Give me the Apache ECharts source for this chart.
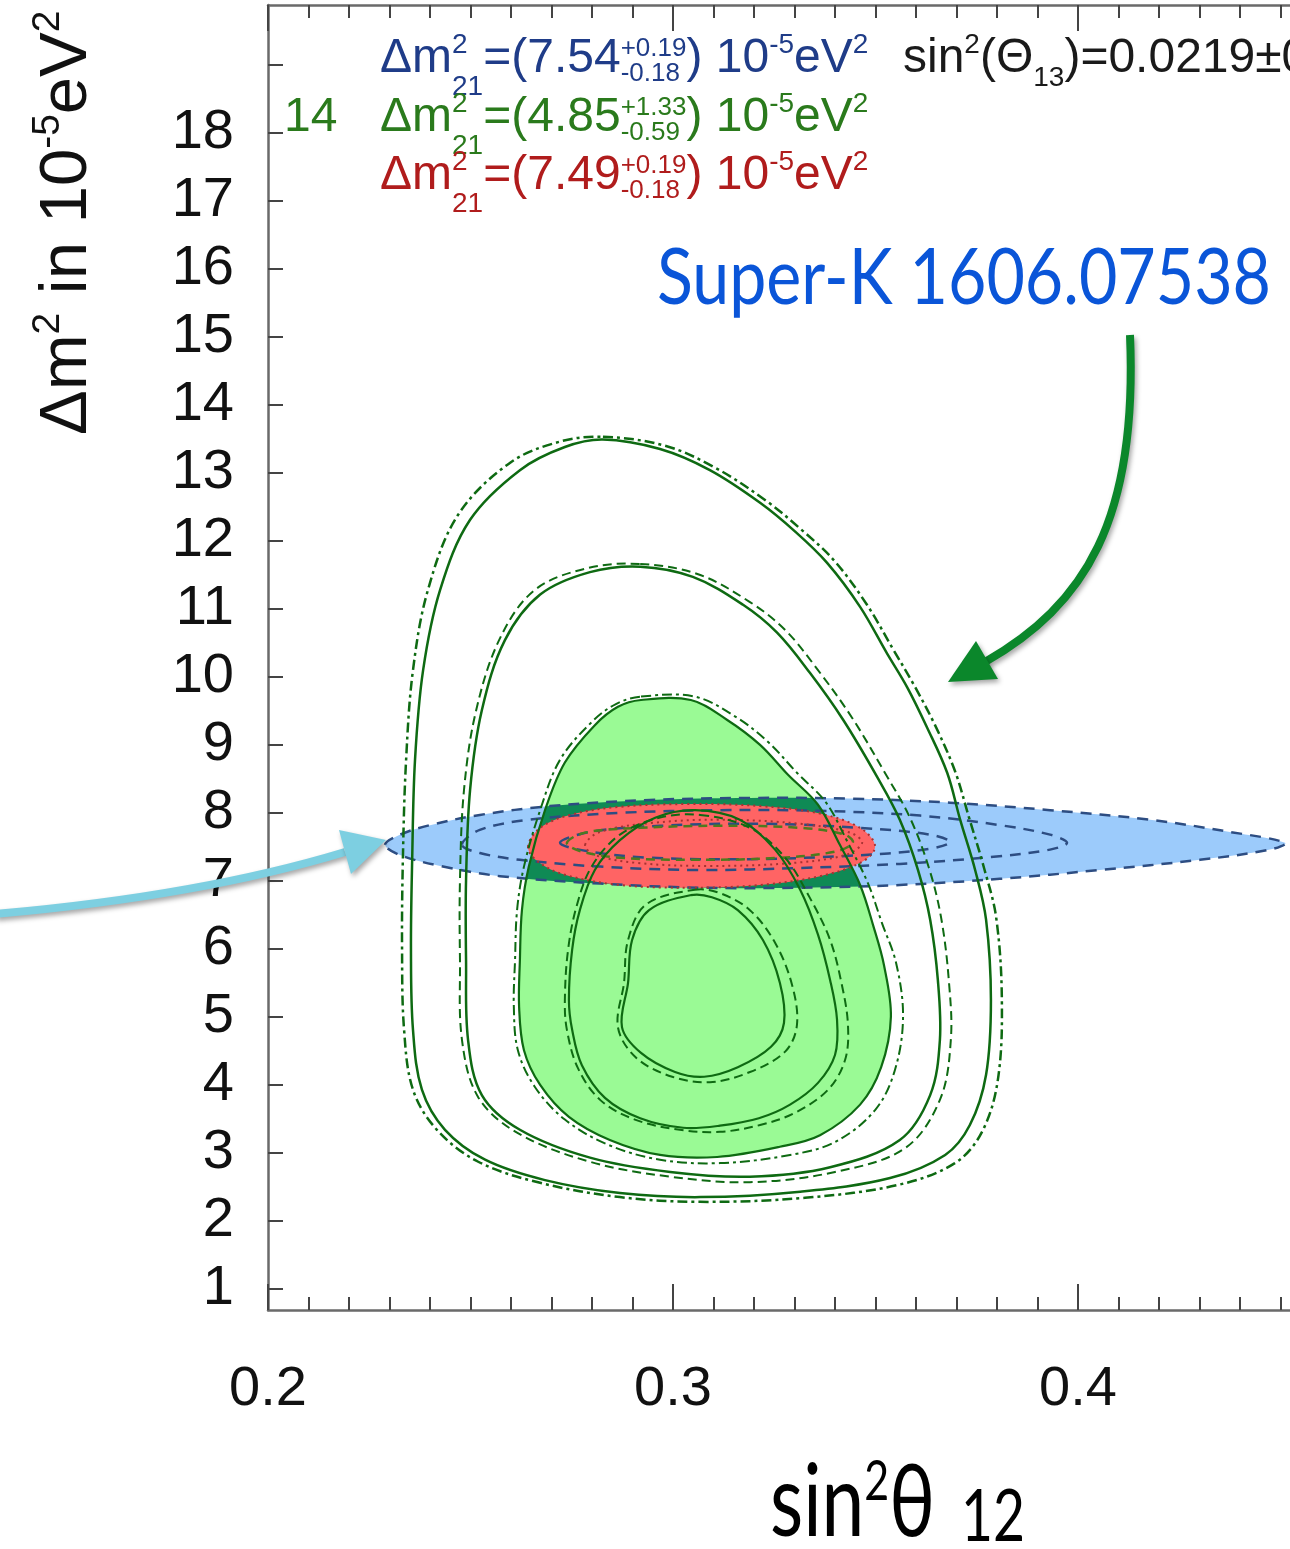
<!DOCTYPE html>
<html><head><meta charset="utf-8">
<script src="https://cdn.jsdelivr.net/npm/echarts@6/dist/echarts.min.js"></script>
<style>html,body{margin:0;padding:0;background:#fff}#c{width:1290px;height:1549px}</style>
</head><body><div id="c"></div>
<script>
// ---------- axis definitions ----------
const xTickLabels = [0.2, 0.3, 0.4];
const yTickValues = [1,2,3,4,5,6,7,8,9,10,11,12,13,14,15,16,17,18,19];
const yLabelValues = [1,2,3,4,5,6,7,8,9,10,11,12,13,14,15,16,17,18];

// ---------- contours (sin^2 theta12, dm2 in 1e-5 eV^2) ----------
const green3sigma = [[0.2827,13.49],[0.2968,13.35],[0.3091,13.04],[0.3215,12.56],[0.3301,12.14],[0.3380,11.68],[0.3462,11.03],[0.3528,10.35],[0.3578,9.85],[0.3627,9.26],[0.3677,8.59],[0.3709,7.90],[0.3746,7.16],[0.3773,6.43],[0.3785,5.25],[0.3773,4.15],[0.3733,3.41],[0.3672,2.97],[0.3536,2.63],[0.3314,2.43],[0.3067,2.35],[0.2869,2.41],[0.2684,2.60],[0.2536,2.90],[0.2437,3.34],[0.2380,3.93],[0.2358,4.81],[0.2353,5.99],[0.2356,7.31],[0.2363,8.78],[0.2383,10.10],[0.2425,11.28],[0.2499,12.31],[0.2622,13.04],[0.2733,13.38]];
const green3sigmaAlt = [[0.2827,13.53],[0.2980,13.40],[0.3106,13.07],[0.3230,12.59],[0.3316,12.17],[0.3398,11.71],[0.3479,11.06],[0.3546,10.38],[0.3595,9.88],[0.3647,9.29],[0.3696,8.62],[0.3731,7.93],[0.3768,7.19],[0.3798,6.46],[0.3812,5.25],[0.3802,4.07],[0.3763,3.31],[0.3696,2.85],[0.3556,2.53],[0.3326,2.34],[0.3067,2.28],[0.2869,2.35],[0.2672,2.56],[0.2519,2.87],[0.2417,3.34],[0.2358,3.93],[0.2336,4.81],[0.2331,5.99],[0.2333,7.31],[0.2341,8.78],[0.2358,10.10],[0.2395,11.28],[0.2469,12.38],[0.2598,13.15],[0.2721,13.46]];
const green2sigma = [[0.2919,11.62],[0.3049,11.47],[0.3173,11.06],[0.3257,10.65],[0.3338,10.06],[0.3420,9.37],[0.3504,8.53],[0.3560,7.90],[0.3605,7.16],[0.3635,6.43],[0.3654,5.54],[0.3659,4.66],[0.3635,3.85],[0.3560,3.19],[0.3388,2.79],[0.3190,2.65],[0.2993,2.72],[0.2795,2.93],[0.2622,3.34],[0.2528,3.85],[0.2494,4.66],[0.2489,5.84],[0.2489,7.01],[0.2499,8.34],[0.2528,9.51],[0.2585,10.54],[0.2672,11.21],[0.2795,11.54]];
const green2sigmaAlt = [[0.2919,11.66],[0.3062,11.51],[0.3190,11.10],[0.3277,10.69],[0.3358,10.10],[0.3442,9.40],[0.3526,8.56],[0.3585,7.93],[0.3632,7.19],[0.3662,6.46],[0.3681,5.54],[0.3686,4.66],[0.3659,3.78],[0.3573,3.07],[0.3400,2.72],[0.3190,2.57],[0.2993,2.65],[0.2795,2.87],[0.2617,3.29],[0.2519,3.82],[0.2479,4.66],[0.2474,5.84],[0.2474,7.01],[0.2484,8.34],[0.2514,9.51],[0.2573,10.57],[0.2659,11.28],[0.2790,11.60]];
const greenFill = [[0.2921,9.66],[0.3044,9.66],[0.3133,9.37],[0.3215,9.00],[0.3284,8.56],[0.3358,8.12],[0.3412,7.53],[0.3462,6.94],[0.3494,6.35],[0.3521,5.76],[0.3538,5.00],[0.3514,4.26],[0.3462,3.71],[0.3363,3.26],[0.3264,3.09],[0.3109,2.94],[0.2968,2.97],[0.2844,3.19],[0.2743,3.53],[0.2672,4.00],[0.2632,4.51],[0.2620,5.15],[0.2622,5.84],[0.2627,6.57],[0.2644,7.21],[0.2684,8.04],[0.2733,8.74],[0.2807,9.29],[0.2864,9.56]];
const greenFillAlt = [[0.2921,9.71],[0.3054,9.71],[0.3158,9.40],[0.3237,9.03],[0.3306,8.59],[0.3378,8.15],[0.3432,7.56],[0.3481,6.97],[0.3516,6.38],[0.3551,5.79],[0.3568,5.00],[0.3548,4.22],[0.3499,3.63],[0.3400,3.16],[0.3289,2.97],[0.3116,2.85],[0.2968,2.90],[0.2840,3.12],[0.2733,3.49],[0.2659,3.97],[0.2617,4.51],[0.2607,5.15],[0.2610,5.84],[0.2615,6.57],[0.2632,7.21],[0.2672,8.04],[0.2721,8.78],[0.2800,9.34],[0.2859,9.60]];
const greenInner = [[0.3054,8.04],[0.3165,7.90],[0.3252,7.46],[0.3314,6.87],[0.3358,6.21],[0.3388,5.54],[0.3405,4.96],[0.3400,4.44],[0.3358,4.03],[0.3289,3.71],[0.3212,3.51],[0.3116,3.40],[0.3025,3.37],[0.2919,3.51],[0.2832,3.81],[0.2775,4.29],[0.2751,4.81],[0.2743,5.25],[0.2751,5.99],[0.2770,6.57],[0.2807,7.16],[0.2869,7.60],[0.2956,7.93]];
const greenInnerAlt = [[0.3067,7.97],[0.3190,7.78],[0.3277,7.34],[0.3338,6.75],[0.3388,6.13],[0.3417,5.47],[0.3432,4.88],[0.3425,4.37],[0.3383,3.93],[0.3301,3.59],[0.3215,3.41],[0.3116,3.31],[0.3017,3.34],[0.2906,3.49],[0.2820,3.78],[0.2765,4.25],[0.2738,4.81],[0.2733,5.25],[0.2741,5.99],[0.2763,6.65],[0.2800,7.22],[0.2869,7.68],[0.2968,7.93]];
const greenCore = [[0.3044,6.79],[0.3096,6.76],[0.3160,6.57],[0.3222,6.13],[0.3264,5.50],[0.3274,4.91],[0.3242,4.56],[0.3160,4.26],[0.3077,4.12],[0.3005,4.19],[0.2921,4.47],[0.2874,4.85],[0.2889,5.50],[0.2899,6.13],[0.2941,6.57]];
const greenCoreAlt = [[0.3054,6.87],[0.3116,6.82],[0.3190,6.57],[0.3252,6.09],[0.3294,5.47],[0.3306,4.88],[0.3277,4.49],[0.3190,4.19],[0.3091,4.04],[0.2998,4.12],[0.2909,4.40],[0.2864,4.85],[0.2879,5.50],[0.2889,6.13],[0.2933,6.65]];
const greenSmall = [[0.2738,7.56],[0.2783,7.71],[0.2919,7.78],[0.3116,7.81],[0.3314,7.78],[0.3425,7.68],[0.3444,7.56],[0.3400,7.43],[0.3264,7.34],[0.3067,7.31],[0.2869,7.34],[0.2770,7.44]];

const skOuter = [[0.2289,7.53],[0.2326,7.68],[0.2400,7.82],[0.2523,7.97],[0.2696,8.10],[0.2943,8.19],[0.3190,8.22],[0.3437,8.21],[0.3684,8.15],[0.3931,8.04],[0.4178,7.90],[0.4375,7.72],[0.4511,7.56],[0.4474,7.46],[0.4301,7.31],[0.4054,7.16],[0.3807,7.03],[0.3560,6.94],[0.3314,6.90],[0.3067,6.90],[0.2820,6.96],[0.2573,7.07],[0.2425,7.22],[0.2326,7.38]];
const sk2sigma = [[0.2479,7.53],[0.2523,7.75],[0.2647,7.90],[0.2869,8.00],[0.3116,8.04],[0.3363,8.03],[0.3610,7.96],[0.3807,7.82],[0.3931,7.68],[0.3973,7.56],[0.3931,7.46],[0.3783,7.35],[0.3560,7.25],[0.3314,7.19],[0.3067,7.16],[0.2820,7.21],[0.2622,7.31],[0.2523,7.41]];
const sk1sigma = [[0.2721,7.56],[0.2795,7.72],[0.2968,7.81],[0.3215,7.84],[0.3462,7.78],[0.3635,7.68],[0.3684,7.57],[0.3622,7.46],[0.3437,7.37],[0.3190,7.32],[0.2943,7.34],[0.2795,7.43]];

const combOuter = [[0.2642,7.50],[0.2672,7.78],[0.2746,7.97],[0.2869,8.09],[0.3042,8.13],[0.3215,8.10],[0.3363,7.99],[0.3462,7.78],[0.3499,7.51],[0.3467,7.28],[0.3363,7.07],[0.3215,6.94],[0.3042,6.90],[0.2869,6.94],[0.2733,7.09],[0.2667,7.28]];
const combInner = [[0.2783,7.53],[0.2820,7.72],[0.2943,7.85],[0.3116,7.90],[0.3314,7.84],[0.3437,7.71],[0.3467,7.56],[0.3425,7.38],[0.3289,7.26],[0.3091,7.22],[0.2919,7.26],[0.2807,7.38]];

// ---------- text ----------
const legendLines = [
  {color:'#1f3c88', central:'7.54', up:'+0.19', dn:'-0.18'},
  {color:'#2a7a1c', central:'4.85', up:'+1.33', dn:'-0.59'},
  {color:'#b01c1c', central:'7.49', up:'+0.19', dn:'-0.18'}
];
const theta13Text = {pre:'sin', sup:'2', mid:'(Θ', sub:'13', post:')=0.0219±0'};
const annotation = 'Super-K 1606.07538';

// ---------- helpers ----------
const mctx = document.createElement('canvas').getContext('2d');
function tw(t, size, fam){ mctx.font = size + 'px ' + fam; return mctx.measureText(t).width; }
function mathText(parts, o){
  const kids = []; let cx = 0; const fam = o.family;
  const push = (t, size, dy, x) => kids.push({type:'text', x:x, y:dy - 0.31*size,
    style:{text:t, fontSize:size, fontFamily:fam, fill:o.color, verticalAlign:'middle', align:'left'}});
  for (const p of parts){
    if (p.gap){ cx += p.gap; continue; }
    if (p.t != null){ push(p.t, o.size, 0, cx); cx += tw(p.t, o.size, fam); continue; }
    const s = p.ss || o.small; let w = 0;
    if (p.sup != null){ push(p.sup, s, p.supDy != null ? p.supDy : o.supDy, cx); w = Math.max(w, tw(p.sup, s, fam)); }
    if (p.sub != null){ push(p.sub, s, p.subDy != null ? p.subDy : o.subDy, cx); w = Math.max(w, tw(p.sub, s, fam)); }
    cx += w;
  }
  const sx = o.fitWidth ? o.fitWidth / cx : 1;
  return {type:'group', x:o.x, y:o.y, rotation:o.rotation || 0, scaleX:sx, children:kids, z:100, silent:true};
}
const ARIAL = "'Liberation Sans', Arial, sans-serif";
const GILL = "Lato, 'Noto Sans', sans-serif";

function shape(pts, o){
  return {
    type:'custom', coordinateSystem:'cartesian2d', xAxisIndex:0, yAxisIndex:0,
    z:o.z, silent:true, animation:false, clip:true,
    data:pts, encode:{x:0, y:1},
    renderItem:function(params, api){
      if (params.dataIndex !== 0) return null;
      const el = {type:'polygon', shape:{points:pts.map(q => api.coord(q)), smooth:o.smooth != null ? o.smooth : 0.35},
        style:{fill:o.fill || 'none', stroke:o.stroke || 'none', lineWidth:o.lw || 0, lineDash:o.dash || null}};
      if (o.clipTo) el.clipPath = {type:'polygon', shape:{points:o.clipTo.map(q => api.coord(q)), smooth:0.35}};
      return el;
    }
  };
}
const GL = '#0e6a12';
const series = [
  shape(skOuter, {z:1, fill:'#9ccbfb'}),
  shape(greenFill, {z:2, fill:'#9afa95'}),
  shape(greenFill, {z:3, fill:'#0f8a55', clipTo:skOuter}),
  shape(combOuter, {z:4, fill:'#ff6464'}),
  shape(skOuter, {z:5, stroke:'#2d4d82', lw:2.5, dash:[11,8]}),
  shape(sk2sigma, {z:5, stroke:'#2d4d82', lw:2.5, dash:[11,8]}),
  shape(sk1sigma, {z:5, stroke:'#2d4d82', lw:2.5, dash:[11,8]}),
  shape(combOuter, {z:6, stroke:'#a83232', lw:2, dash:[2,4]}),
  shape(combInner, {z:6, stroke:'#a83232', lw:2, dash:[2,4]}),
  shape(greenSmall, {z:6, stroke:'#4f7a1e', lw:2.5, dash:[9,6]}),
  shape(green3sigma, {z:7, stroke:GL, lw:2.5}),
  shape(green3sigmaAlt, {z:7, stroke:GL, lw:2.5, dash:[10,4,3,4]}),
  shape(green2sigma, {z:7, stroke:GL, lw:2.5}),
  shape(green2sigmaAlt, {z:7, stroke:GL, lw:2, dash:[9,5]}),
  shape(greenFill, {z:7, stroke:GL, lw:2.2}),
  shape(greenFillAlt, {z:7, stroke:GL, lw:2, dash:[10,4,3,4]}),
  shape(greenInner, {z:7, stroke:GL, lw:2.2}),
  shape(greenInnerAlt, {z:7, stroke:GL, lw:2, dash:[9,5]}),
  shape(greenCore, {z:7, stroke:GL, lw:2.2}),
  shape(greenCoreAlt, {z:7, stroke:GL, lw:2, dash:[9,5]})
];

// ---------- graphic text & arrows ----------
const graphics = [];
legendLines.forEach((L, i) => {
  graphics.push(mathText([
    {t:'Δm'}, {sup:'2', sub:'21'}, {t:'=(' + L.central}, {sup:L.up, sub:L.dn, ss:26, supDy:-17, subDy:8},
    {t:') 10'}, {sup:'-5'}, {t:'eV'}, {sup:'2'}
  ], {x:380, y:74 + i*58.5, size:48, small:28, supDy:-20, subDy:22, family:ARIAL, color:L.color}));
});
graphics.push(mathText([{t:'14'}], {x:284, y:132.5, size:48, small:28, supDy:-20, subDy:22, family:ARIAL, color:'#2a7a1c'}));
graphics.push(mathText([
  {t:theta13Text.pre}, {sup:theta13Text.sup}, {t:theta13Text.mid}, {sub:theta13Text.sub}, {t:theta13Text.post}
], {x:903, y:74, size:48, small:28, supDy:-20, subDy:13, family:ARIAL, color:'#1a1a1a'}));
// y axis title
graphics.push(mathText([
  {t:'Δm'}, {sup:'2'}, {t:' in 10'}, {sup:'-5'}, {t:'eV'}, {sup:'2'}
], {x:88, y:435, rotation:Math.PI/2, size:67, small:39, supDy:-28, subDy:10, family:ARIAL, color:'#111'}));
// x axis title
graphics.push(mathText([
  {t:'sin'}, {sup:'2', ss:56, supDy:-36}, {t:'θ'}, {gap:34}, {sub:'12', ss:72, subDy:5}
], {x:770, y:1535, size:100, small:56, supDy:-36, subDy:5, family:GILL, color:'#000', fitWidth:255}));
// annotation
graphics.push(mathText([{t:annotation}], {x:657, y:303, size:78, small:40, supDy:0, subDy:0, family:GILL, color:'#0a55d8', fitWidth:614}));

const shadow = {shadowBlur:5, shadowColor:'rgba(0,0,0,0.35)', shadowOffsetX:2, shadowOffsetY:3};
graphics.push({type:'bezierCurve', z:110, silent:true,
  shape:{x1:1130, y1:335, cpx1:1138, cpy1:520, cpx2:1085, cpy2:605, x2:985, y2:662},
  style:Object.assign({stroke:'#0b872b', lineWidth:8, fill:null}, shadow)});
graphics.push({type:'polygon', z:110, silent:true, shape:{points:[[948,682],[998,679],[976,641]]},
  style:Object.assign({fill:'#0b872b'}, shadow)});
graphics.push({type:'bezierCurve', z:110, silent:true,
  shape:{x1:-5, y1:914, cpx1:200, cpy1:896, x2:345, y2:852},
  style:Object.assign({stroke:'#7dcfe1', lineWidth:8, fill:null}, shadow)});
graphics.push({type:'polygon', z:110, silent:true, shape:{points:[[386,840],[351,874],[339,830]]},
  style:Object.assign({fill:'#7dcfe1'}, shadow)});

// ---------- axes ----------
const axisLine = {show:true, lineStyle:{color:'#6a6a6a', width:2.5}};
const tickStyle = {color:'#444', width:2};
function xAx(pos, showLabel){
  return {type:'value', position:pos, min:0.2, max:0.5, interval:0.1, gridIndex:0,
    axisLine:axisLine, splitLine:{show:false},
    axisTick:{show:true, inside:true, length:26, lineStyle:tickStyle},
    minorTick:{show:true, splitNumber:10, length:13, lineStyle:tickStyle},
    axisLabel:{show:showLabel, margin:52, fontSize:56, color:'#111', fontFamily:ARIAL,
      formatter:v => (xTickLabels.some(t => Math.abs(t - v) < 1e-9) ? v.toFixed(1) : '')}};
}
const option = {
  backgroundColor:'#fff',
  animation:false,
  grid:{left:268, top:5, width:1215, height:1305, outerBoundsMode:'none', containLabel:false},
  xAxis:[xAx('bottom', true), xAx('top', false)],
  yAxis:{type:'value', min:0.69, max:19.88,
    axisLine:axisLine, splitLine:{show:false},
    axisTick:{show:true, inside:true, length:15, lineStyle:tickStyle, customValues:yTickValues},
    axisLabel:{show:true, customValues:yLabelValues, margin:34, fontSize:56, color:'#111', fontFamily:ARIAL}},
  series:series,
  graphic:{elements:graphics}
};
const chart = echarts.init(document.getElementById('c'), null, {renderer:'canvas'});
chart.setOption(option);
</script></body></html>
